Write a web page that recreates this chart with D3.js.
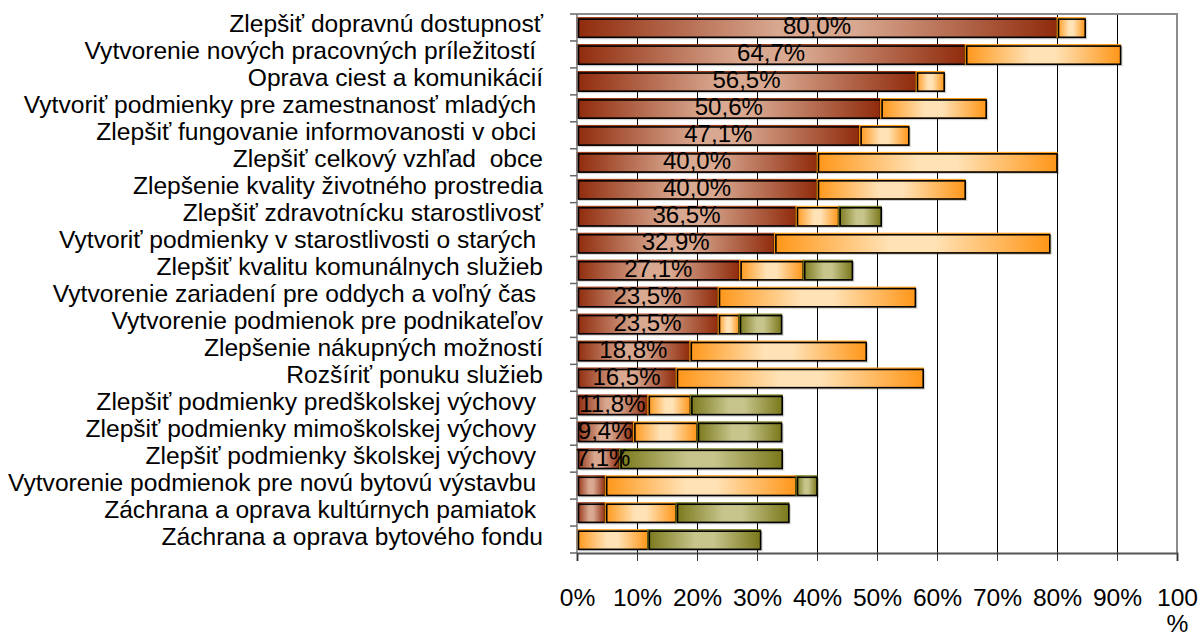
<!DOCTYPE html>
<html>
<head>
<meta charset="utf-8">
<script src="https://cdn.jsdelivr.net/npm/d3@7"></script>
<style>
  body { margin: 0; background: #fff; }
  svg { display: block; font-family: "Liberation Sans", Arial, sans-serif; }
</style>
</head>
<body>
<script>
// categories top to bottom (trailing spaces kept as in the original)
var categories = [
  "Zlepšiť dopravnú dostupnosť",
  "Vytvorenie nových pracovných príležitostí ",
  "Oprava ciest a komunikácií",
  "Vytvoriť podmienky pre zamestnanosť mladých ",
  "Zlepšiť fungovanie informovanosti v obci ",
  "Zlepšiť celkový vzhľad  obce",
  "Zlepšenie kvality životného prostredia",
  "Zlepšiť zdravotnícku starostlivosť",
  "Vytvoriť podmienky v starostlivosti o starých ",
  "Zlepšiť kvalitu komunálnych služieb",
  "Vytvorenie zariadení pre oddych a voľný čas ",
  "Vytvorenie podmienok pre podnikateľov",
  "Zlepšenie nákupných možností",
  "Rozšíriť ponuku služieb",
  "Zlepšiť podmienky predškolskej výchovy ",
  "Zlepšiť podmienky mimoškolskej výchovy ",
  "Zlepšiť podmienky školskej výchovy ",
  "Vytvorenie podmienok pre novú bytovú výstavbu ",
  "Záchrana a oprava kultúrnych pamiatok ",
  "Záchrana a oprava bytového fondu"
];
// three stacked series, in percent
var first  = [80.0, 64.7, 56.5, 50.6, 47.1, 40.0, 40.0, 36.5, 32.9, 27.1, 23.5, 23.5, 18.8, 16.5, 11.8, 9.4, 7.1, 4.7, 4.7, 0];
var second = [4.7, 25.9, 4.7, 17.6, 8.2, 40.0, 24.7, 7.1, 45.9, 10.6, 32.9, 3.5, 29.4, 41.2, 7.1, 10.6, 0, 31.8, 11.8, 11.8];
var third  = [0, 0, 0, 0, 0, 0, 0, 7.1, 0, 8.2, 0, 7.1, 0, 0, 15.3, 14.1, 27.1, 3.5, 18.8, 18.8];
var xTicks = [0, 10, 20, 30, 40, 50, 60, 70, 80, 90, 100];

var W = 1201, H = 633;
var pL = 577, pR = 1177, pT = 14, pB = 553;

var svg = d3.select("body").append("svg").attr("width", W).attr("height", H);

var x = d3.scaleLinear().domain([0, 100]).range([pL, pR]);
var y = d3.scaleBand().domain(categories).range([pT, pB]).paddingInner(0.27).paddingOuter(0.135);

// gradients
var defs = svg.append("defs");
var grads = [
  {id: "g0", edge: "#902b0c", mid: "#d8a890", line: "#9a3410"},
  {id: "g1", edge: "#ff9618", mid: "#ffe2b6", line: "#ff9a10"},
  {id: "g2", edge: "#7a781a", mid: "#c7c58c", line: "#7a781a"}
];
grads.forEach(function(g) {
  var lg = defs.append("linearGradient").attr("id", g.id)
    .attr("x1", 0).attr("x2", 1).attr("y1", 0).attr("y2", 0);
  lg.append("stop").attr("offset", "0%").attr("stop-color", g.edge);
  lg.append("stop").attr("offset", "42%").attr("stop-color", g.mid);
  lg.append("stop").attr("offset", "58%").attr("stop-color", g.mid);
  lg.append("stop").attr("offset", "100%").attr("stop-color", g.edge);
});

// vertical gridlines
svg.append("g").selectAll("line").data(xTicks.slice(1, 10)).enter().append("line")
  .attr("x1", function(d) { return x(d) + 0.5; }).attr("x2", function(d) { return x(d) + 0.5; })
  .attr("y1", pT).attr("y2", pB)
  .attr("stroke", "#000").attr("stroke-width", 1);

// plot border top and right
svg.append("path")
  .attr("d", "M" + pL + "," + pT + "H" + pR + "V" + pB)
  .attr("fill", "none").attr("stroke", "#8c8c8c").attr("stroke-width", 2);

// stacked segments
var rows = categories.map(function(c, i) {
  var vals = [first[i], second[i], third[i]];
  var acc = 0, segs = [];
  vals.forEach(function(v, k) {
    if (v > 0) segs.push({cat: c, k: k, x0: acc, x1: acc + v});
    acc += v;
  });
  return segs;
});
var segs = [].concat.apply([], rows);

var bars = svg.append("g");
var bw = y.bandwidth();
segs.forEach(function(s) {
  var x0 = x(s.x0), x1 = x(s.x1), yy = y(s.cat);
  var g = grads[s.k];
  bars.append("rect")
    .attr("x", x0 + 2).attr("y", yy + 2).attr("width", x1 - x0).attr("height", bw)
    .attr("fill", "#000").attr("opacity", 0.18);
  bars.append("rect")
    .attr("x", x0).attr("y", yy).attr("width", x1 - x0).attr("height", bw)
    .attr("fill", "url(#" + g.id + ")")
    .attr("stroke", g.line).attr("stroke-width", 1);
  bars.append("rect")
    .attr("x", x0 + 1.5).attr("y", yy + 1.5).attr("width", Math.max(0, x1 - x0 - 1.5)).attr("height", bw - 1.5)
    .attr("fill", "none").attr("stroke", "#000").attr("stroke-width", 1.6);
});

// bottom axis
var xAxis = d3.axisBottom(x).tickValues(xTicks).tickSize(8).tickFormat(function(d) { return d + "%"; });
var gx = svg.append("g").attr("transform", "translate(0," + pB + ")").call(xAxis);
gx.select(".domain").attr("stroke", "#555").attr("stroke-width", 2);
gx.selectAll(".tick line").attr("stroke", "#333");
gx.selectAll(".tick text").remove();
gx.selectAll(".tick").each(function(d) {
  var t = d3.select(this).append("text")
    .attr("fill", "#000").attr("font-size", 24.6).attr("text-anchor", "middle")
    .attr("y", 53);
  if (d === 100) {
    t.append("tspan").attr("x", 0).attr("dy", 0).text("100");
    t.append("tspan").attr("x", 0).attr("dy", 26).text("%");
  } else {
    t.text(d + "%");
  }
});

// left axis with ticks at category boundaries
svg.append("line").attr("x1", pL).attr("x2", pL).attr("y1", pT).attr("y2", pB)
  .attr("stroke", "#777").attr("stroke-width", 1.5);
var bounds = d3.range(categories.length + 1).map(function(i) { return pT + i * (pB - pT) / categories.length; });
svg.append("g").selectAll("line").data(bounds).enter().append("line")
  .attr("x1", pL - 7).attr("x2", pL).attr("y1", function(d) { return d; }).attr("y2", function(d) { return d; })
  .attr("stroke", "#666").attr("stroke-width", 1.5);

// category labels
svg.append("g").selectAll("text").data(categories).enter().append("text")
  .attr("x", 543).attr("y", function(d) { return y(d) + bw / 2 + 5; })
  .attr("text-anchor", "end").attr("font-size", 24.6).attr("fill", "#000")
  .attr("xml:space", "preserve").style("white-space", "pre")
  .text(function(d) { return d; });

// value labels for first series
var fmt = function(v) { return v.toFixed(1).replace(".", ",") + "%"; };
svg.append("g").selectAll("text").data(categories.filter(function(c, i) { return first[i] >= 5; })).enter().append("text")
  .attr("x", function(d) {
    var v = first[categories.indexOf(d)];
    return Math.max(x(v / 2), pL + 26);
  })
  .attr("y", function(d) { return y(d) + bw / 2 + 7; })
  .attr("text-anchor", "middle").attr("font-size", 24).attr("fill", "#000")
  .text(function(d) { return fmt(first[categories.indexOf(d)]); });
</script>
</body>
</html>
